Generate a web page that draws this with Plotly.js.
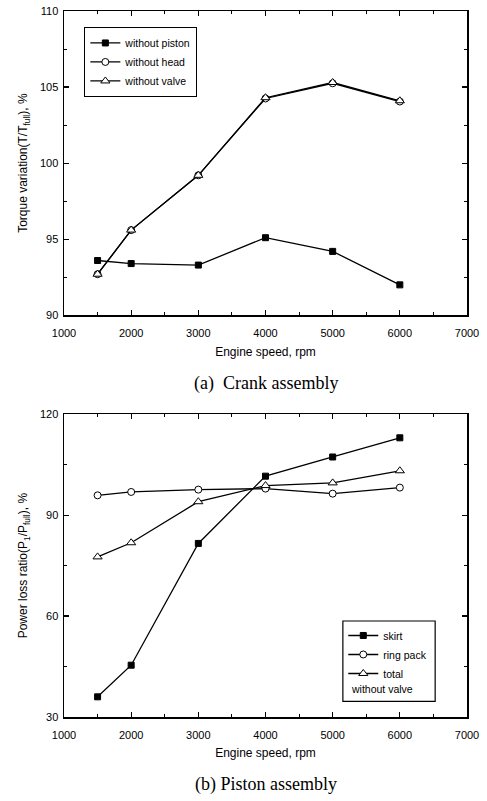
<!DOCTYPE html>
<html>
<head>
<meta charset="utf-8">
<script src="https://cdn.plot.ly/plotly-3.0.1.min.js"></script>
<style>html,body{margin:0;padding:0;background:#fff;}#chart{width:487px;height:801px;}</style>
</head>
<body>
<div id="chart"></div>
<script>
// Data
const speed = [1500, 2000, 3000, 4000, 5000, 6000];

// (a) Crank assembly – torque variation, %
const withoutPiston = [93.6, 93.4, 93.3, 95.1, 94.2, 92.0];
const withoutHead   = [92.7, 95.6, 99.2, 104.25, 105.25, 104.05];
const withoutValve  = [92.7, 95.6, 99.2, 104.3, 105.3, 104.1];

// (b) Piston assembly – power loss ratio, %
const skirt    = [36.0, 45.4, 81.6, 101.6, 107.3, 113.0];
const ringPack = [95.9, 96.9, 97.6, 97.9, 96.4, 98.2];
const total    = [77.6, 81.8, 94.0, 98.8, 99.6, 103.2];

const xTicks = [1000, 2000, 3000, 4000, 5000, 6000, 7000];
const yTicksA = [90, 95, 100, 105, 110];
const yTicksB = [30, 60, 90, 120];

const lineStyle = {color: '#000', width: 1.3};
function tr(x, y, name, symbol, filled, xa, ya, leg, size) {
  return {
    x: x, y: y, name: name, type: 'scatter', mode: 'lines+markers',
    xaxis: xa, yaxis: ya, legend: leg,
    line: lineStyle,
    marker: {symbol: symbol, size: size, color: filled ? '#000' : '#fff',
             line: {color: '#000', width: 1}}
  };
}

const data = [
  tr(speed, withoutPiston, 'without piston', 'square', true, 'x', 'y', 'legend', 6),
  tr(speed, withoutHead, 'without head', 'circle', false, 'x', 'y', 'legend', 7),
  tr(speed, withoutValve, 'without valve', 'triangle-up', false, 'x', 'y', 'legend', 8),
  tr(speed, skirt, 'skirt', 'square', true, 'x2', 'y2', 'legend2', 6),
  tr(speed, ringPack, 'ring pack', 'circle', false, 'x2', 'y2', 'legend2', 7),
  tr(speed, total, 'total', 'triangle-up', false, 'x2', 'y2', 'legend2', 8)
];

const tickFont = {family: 'Liberation Sans, Arial, sans-serif', size: 11, color: '#000'};
const titleFont = {family: 'Liberation Sans, Arial, sans-serif', size: 12, color: '#000'};

function xAxis(anchor) {
  return {
    domain: [0, 1], anchor: anchor, range: [1000, 7000],
    tickmode: 'array', tickvals: xTicks, ticktext: xTicks.map(String),
    ticks: 'inside', ticklen: 5, tickwidth: 1.2, tickcolor: '#000', ticklabelstandoff: 7,
    minor: {dtick: 500, tick0: 1000, ticks: 'inside', ticklen: 3, tickcolor: '#000', tickwidth: 1},
    showline: true, linecolor: '#000', linewidth: 1.5, mirror: 'ticks',
    showgrid: false, zeroline: false, tickfont: tickFont,
    title: {text: 'Engine speed, rpm', font: titleFont, standoff: 9}
  };
}
function yAxis(anchor, domain, range, ticks, minorDt, title) {
  return {
    domain: domain, anchor: anchor, range: range,
    tickmode: 'array', tickvals: ticks, ticktext: ticks.map(String),
    ticks: 'inside', ticklen: 5, tickwidth: 1.2, tickcolor: '#000', ticklabelstandoff: 2,
    minor: {dtick: minorDt, tick0: range[0], ticks: 'inside', ticklen: 3, tickcolor: '#000', tickwidth: 1},
    showline: true, linecolor: '#000', linewidth: 1.5, mirror: 'ticks',
    showgrid: false, zeroline: false, tickfont: tickFont,
    title: {text: title, font: titleFont, standoff: 9}
  };
}

const legFont = {family: 'Liberation Sans, Arial, sans-serif', size: 10.5, color: '#000'};

const layout = {
  width: 487, height: 801,
  margin: {l: 64, r: 20, t: 11, b: 84},
  paper_bgcolor: '#fff', plot_bgcolor: '#fff',
  showlegend: true,
  xaxis: xAxis('y'),
  yaxis: yAxis('x', [0.569, 1], [90, 110], yTicksA, 2.5, 'Torque variation(T/T<sub>full</sub>), %'),
  xaxis2: xAxis('y2'),
  yaxis2: yAxis('x2', [0, 0.4288], [30, 120], yTicksB, 15, 'Power loss ratio(P<sub>1</sub>/P<sub>full</sub>), %'),
  legend: {
    x: 0.05, y: 0.977, xanchor: 'left', yanchor: 'top', xref: 'paper', yref: 'paper',
    bgcolor: '#fff', bordercolor: '#000', borderwidth: 1.2,
    font: legFont, tracegroupgap: 0, itemwidth: 30, traceorder: 'normal'
  },
  legend2: {
    x: 0.693, y: 0.136, xanchor: 'left', yanchor: 'top', xref: 'paper', yref: 'paper',
    bgcolor: 'rgba(0,0,0,0)', borderwidth: 0,
    font: legFont, tracegroupgap: 0, itemwidth: 30, traceorder: 'normal'
  },
  shapes: [
    {type: 'rect', xref: 'paper', yref: 'paper', x0: 0.692, x1: 0.921, y0: 0.022, y1: 0.136,
     line: {color: '#000', width: 1.2}, fillcolor: 'rgba(0,0,0,0)'}
  ],
  annotations: [
    {text: 'without valve', xref: 'paper', yref: 'paper', x: 0.708, y: 0.040, xanchor: 'left', yanchor: 'middle',
     showarrow: false, font: legFont},
    {text: '(a)  Crank assembly', xref: 'paper', yref: 'paper', x: 0.5, y: 0.473, xanchor: 'center', yanchor: 'middle',
     showarrow: false, font: {family: 'Liberation Serif, Times New Roman, serif', size: 18, color: '#000'}},
    {text: '(b) Piston assembly', xref: 'paper', yref: 'paper', x: 0.5, y: -0.096, xanchor: 'center', yanchor: 'middle',
     showarrow: false, font: {family: 'Liberation Serif, Times New Roman, serif', size: 18, color: '#000'}}
  ]
};

Plotly.newPlot('chart', data, layout, {displayModeBar: false, staticPlot: true});
</script>
</body>
</html>
